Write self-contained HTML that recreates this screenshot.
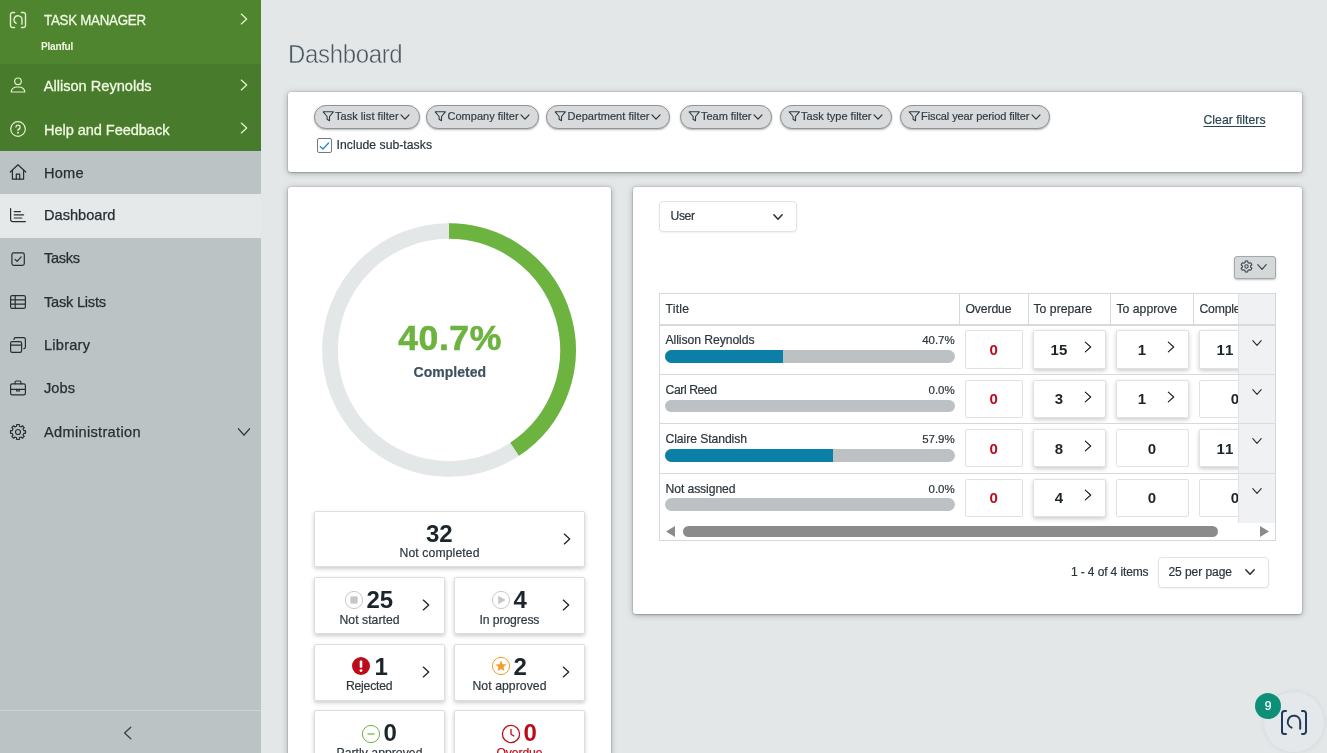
<!DOCTYPE html>
<html lang="en">
<head>
<meta charset="utf-8">
<title>Dashboard - Task Manager</title>
<style>
html,body{margin:0;padding:0;}
h1{margin:0;font-weight:400;}
body{width:1327px;height:753px;overflow:hidden;position:relative;background:#e3e7e8;font-family:"Liberation Sans",sans-serif;}
.t{position:absolute;white-space:nowrap;}
.card{background:#fff;border-radius:3px;box-shadow:0 0 0 1px rgba(0,0,0,.05),0 1px 6px rgba(0,0,0,.28),0 1px 2px rgba(0,0,0,.16);}
.chip{background:#d8dadb;border:1px solid #8d9396;border-radius:12px;box-sizing:border-box;box-shadow:0 1px 2px rgba(0,0,0,.3);}
.tile{background:#fff;border:1px solid #dcdedf;border-radius:2px;box-sizing:border-box;box-shadow:0 2px 4px rgba(0,0,0,.2);}
.dd{background:#fff;border:1px solid #dfe3e5;border-radius:4px;box-sizing:border-box;box-shadow:0 1px 2px rgba(0,0,0,.06);}
.cell{background:#fff;border:1px solid #dfe1e2;border-radius:2px;box-sizing:border-box;}
.cell.sh{box-shadow:0 2px 4px rgba(0,0,0,.2);}
</style>
</head>
<body>
<nav id="sidebar" aria-label="Main navigation">
<div style="position:absolute;left:0px;top:0px;width:261px;height:753px;background:#bcc3c5;"></div><div style="position:absolute;left:0px;top:0px;width:261px;height:64px;background:#4f852f;"></div><div style="position:absolute;left:0px;top:64px;width:261px;height:87px;background:#487b2b;"></div><svg style="position:absolute;left:9px;top:10.8px;" width="18" height="18" viewBox="0 0 18 18" fill="none"><g stroke="#e2f2cc" stroke-width="1.4" stroke-linecap="round" stroke-linejoin="round"><path d="M5.6 1.5H3.6A2.1 2.1 0 0 0 1.5 3.6V14.4A2.1 2.1 0 0 0 3.6 16.5H5.6"/><path d="M12.4 1.5H14.4A2.1 2.1 0 0 1 16.5 3.6V14.4A2.1 2.1 0 0 1 14.400 16.5H12.4"/><path d="M7.1 12.3A4 4 0 1 1 13 9.2V13.2"/></g></svg><span class="t" style="left:44.3px;top:10.00px;font-size:14.8px;line-height:20px;color:#f1f9e4;font-weight:400;letter-spacing:-0.28px;-webkit-text-stroke:.3px #f1f9e4;transform:scaleX(0.9);transform-origin:0 50%;">TASK MANAGER</span><span class="t" style="left:41.2px;top:38.00px;font-size:10.8px;line-height:16px;color:#f1f9e4;font-weight:700;letter-spacing:-0.21px;transform:scaleX(0.93);transform-origin:0 50%;">Planful</span><svg style="position:absolute;left:238px;top:11px;" width="12" height="16" viewBox="0 0 12 16" fill="none"><path d="M3.30 3.10L8.70 8L3.30 12.90" stroke="#e2f2cc" stroke-width="1.3" stroke-linecap="round" stroke-linejoin="round"/></svg><svg style="position:absolute;left:9px;top:76px;" width="18" height="18" viewBox="0 0 18 18" fill="none"><g stroke="#e2f2cc" stroke-width="1.2" stroke-linecap="round" stroke-linejoin="round"><circle cx="9" cy="5.3" r="3.3"/><path d="M2.2 16C2.2 12.6 5 11 9 11S15.8 12.6 15.8 16Z"/></g></svg><span class="t" style="left:43.8px;top:76.00px;font-size:14.6px;line-height:20px;color:#f1f9e4;font-weight:400;letter-spacing:-0.01px;-webkit-text-stroke:.3px #f1f9e4;">Allison Reynolds</span><svg style="position:absolute;left:238px;top:77px;" width="12" height="16" viewBox="0 0 12 16" fill="none"><path d="M3.30 3.10L8.70 8L3.30 12.90" stroke="#e2f2cc" stroke-width="1.3" stroke-linecap="round" stroke-linejoin="round"/></svg><svg style="position:absolute;left:9px;top:120px;" width="18" height="18" viewBox="0 0 18 18" fill="none"><g stroke="#e2f2cc" stroke-width="1.2" stroke-linecap="round" stroke-linejoin="round"><circle cx="9" cy="9" r="7.3"/><path d="M6.9 7.1A2.1 2.1 0 1 1 9 9.4V10.6"/><circle cx="9" cy="12.7" r=".35" fill="#e2f2cc"/></g></svg><span class="t" style="left:44px;top:120.00px;font-size:14.6px;line-height:20px;color:#f1f9e4;font-weight:400;letter-spacing:-0.07px;-webkit-text-stroke:.3px #f1f9e4;">Help and Feedback</span><svg style="position:absolute;left:238px;top:120px;" width="12" height="16" viewBox="0 0 12 16" fill="none"><path d="M3.30 3.10L8.70 8L3.30 12.90" stroke="#e2f2cc" stroke-width="1.3" stroke-linecap="round" stroke-linejoin="round"/></svg><div style="position:absolute;left:0px;top:194px;width:261px;height:44px;background:#e5e9ea;"></div><svg style="position:absolute;left:9px;top:163px;" width="18" height="18" viewBox="0 0 18 18" fill="none"><g stroke="#262f34" stroke-width="1.2" stroke-linecap="round" stroke-linejoin="round"><path d="M1.3 9L9 1.8L16.7 9"/><path d="M3.4 7.4V16.2H14.6V7.4"/><path d="M7.3 16.2V11.2H10.7V16.2"/></g></svg><span class="t" style="left:44px;top:163.00px;font-size:14.6px;line-height:20px;color:#262f34;font-weight:400;letter-spacing:0.19px;-webkit-text-stroke:.25px #262f34;">Home</span><svg style="position:absolute;left:9px;top:206px;" width="18" height="18" viewBox="0 0 18 18" fill="none"><g stroke="#262f34" stroke-width="1.2" stroke-linecap="round" stroke-linejoin="round"><path d="M1.6 2.6V13.6A2 2 0 0 0 3.6 15.6H16.4"/><path d="M5.2 5.6H11.4"/><path d="M5.2 8.800H14.6"/><path d="M5.2 12H12.8"/></g></svg><span class="t" style="left:44px;top:205.00px;font-size:14.6px;line-height:20px;color:#262f34;font-weight:400;letter-spacing:0.01px;-webkit-text-stroke:.25px #262f34;">Dashboard</span><svg style="position:absolute;left:9px;top:249.89999999999998px;" width="18" height="18" viewBox="0 0 18 18" fill="none"><g stroke="#262f34" stroke-width="1.2" stroke-linecap="round" stroke-linejoin="round"><rect x="2.9" y="2.9" width="12.4" height="12.4" rx="1.8"/><path d="M6 9.3L8.1 11.4L12.2 6.9"/></g></svg><span class="t" style="left:44px;top:248.00px;font-size:14.6px;line-height:20px;color:#262f34;font-weight:400;letter-spacing:-0.33px;-webkit-text-stroke:.25px #262f34;">Tasks</span><svg style="position:absolute;left:9px;top:293px;" width="18" height="18" viewBox="0 0 18 18" fill="none"><g stroke="#262f34" stroke-width="1.2" stroke-linecap="round" stroke-linejoin="round"><rect x="1.6" y="2.6" width="14.8" height="12.8" rx="1.6"/><path d="M1.6 6.9H16.4"/><path d="M1.6 11.1H16.4"/><path d="M6.2 2.6V15.4"/></g></svg><span class="t" style="left:44px;top:292.00px;font-size:14.6px;line-height:20px;color:#262f34;font-weight:400;letter-spacing:-0.23px;-webkit-text-stroke:.25px #262f34;">Task Lists</span><svg style="position:absolute;left:9px;top:335.7px;" width="18" height="18" viewBox="0 0 18 18" fill="none"><g stroke="#262f34" stroke-width="1.2" stroke-linecap="round" stroke-linejoin="round"><rect x="1.6" y="5.6" width="11" height="10.8" rx="1.6"/><path d="M1.6 9.2H12.6"/><path d="M5 3.4V3.2A1.6 1.6 0 0 1 6.6 1.6H14.8A1.6 1.6 0 0 1 16.4 3.2V11A1.6 1.6 0 0 1 14.8 12.6"/></g></svg><span class="t" style="left:44px;top:335.00px;font-size:14.6px;line-height:20px;color:#262f34;font-weight:400;letter-spacing:0.23px;-webkit-text-stroke:.25px #262f34;">Library</span><svg style="position:absolute;left:9px;top:379.2px;" width="18" height="18" viewBox="0 0 18 18" fill="none"><g stroke="#262f34" stroke-width="1.2" stroke-linecap="round" stroke-linejoin="round"><rect x="1.6" y="4.8" width="14.8" height="11" rx="1.6"/><path d="M6 4.8V3.4A1.4 1.4 0 0 1 7.4 2H10.6A1.4 1.4 0 0 1 12 3.4V4.800"/><path d="M1.6 10.4H16.4"/><path d="M7.6 10.4V12H10.4V10.4"/></g></svg><span class="t" style="left:44px;top:378.00px;font-size:14.6px;line-height:20px;color:#262f34;font-weight:400;letter-spacing:0.06px;-webkit-text-stroke:.25px #262f34;">Jobs</span><svg style="position:absolute;left:9px;top:423px;" width="18" height="18" viewBox="0 0 18 18" fill="none"><g stroke="#262f34" stroke-width="1.2" stroke-linecap="round" stroke-linejoin="round"><path d="M7.69 1.51L10.31 1.51L10.38 3.26L12.08 3.97L13.37 2.78L15.22 4.63L14.03 5.92L14.74 7.62L16.49 7.69L16.49 10.31L14.74 10.38L14.03 12.08L15.22 13.37L13.37 15.22L12.08 14.03L10.38 14.74L10.31 16.49L7.69 16.49L7.62 14.74L5.92 14.03L4.63 15.22L2.78 13.37L3.97 12.08L3.26 10.38L1.51 10.31L1.51 7.69L3.26 7.62L3.97 5.92L2.78 4.63L4.63 2.78L5.92 3.97L7.62 3.26Z"/><circle cx="9" cy="9" r="2.5"/></g></svg><span class="t" style="left:44px;top:422.00px;font-size:14.6px;line-height:20px;color:#262f34;font-weight:400;letter-spacing:0.31px;-webkit-text-stroke:.25px #262f34;">Administration</span><svg style="position:absolute;left:235.5px;top:426px;" width="16" height="12" viewBox="0 0 16 12" fill="none"><path d="M2.50 2.80L8 9.20L13.50 2.80" stroke="#262f34" stroke-width="1.3" stroke-linecap="round" stroke-linejoin="round"/></svg><div style="position:absolute;left:0px;top:710px;width:261px;height:1px;background:#cdd3d5;"></div><svg style="position:absolute;left:120px;top:724px;" width="16" height="18" viewBox="0 0 16 18" fill="none"><path d="M10.8 3.2L4.6 9L10.8 14.8" stroke="#2f3e46" stroke-width="1.2" stroke-linecap="round" stroke-linejoin="round"/></svg>
</nav>
<main id="main">
<h1 class="t" style="left:287.6px;top:38.00px;font-size:25px;line-height:32px;color:#4a5761;font-weight:400;letter-spacing:-0.35px;-webkit-text-stroke:.45px #e3e7e8;transform:scaleX(0.96);transform-origin:0 50%;">Dashboard</h1>
<section id="filters" aria-label="Filters">
<div class="card" style="position:absolute;left:288px;top:92px;width:1014px;height:80px;"></div><div class="chip" style="position:absolute;left:314px;top:105px;width:106px;height:24px;"></div><svg style="position:absolute;left:321.5px;top:109.6px;" width="13" height="13" viewBox="0 0 13 13" fill="none"><path d="M1.2 1.8H11.4L7.5 6.5V10.8L5.1 9.2V6.500Z" stroke="#2f3e46" stroke-width="1.1" stroke-linejoin="round"/></svg><span class="t" style="left:335.0px;top:108.00px;font-size:11px;line-height:16px;color:#323e45;font-weight:400;letter-spacing:0.04px;-webkit-text-stroke:.2px #323e45;">Task list filter</span><svg style="position:absolute;left:396.8px;top:110.5px;" width="16" height="12" viewBox="0 0 16 12" fill="none"><path d="M4.00 3.90L8 8.10L12.00 3.90" stroke="#2b363c" stroke-width="1.2" stroke-linecap="round" stroke-linejoin="round"/></svg><div class="chip" style="position:absolute;left:426px;top:105px;width:113px;height:24px;"></div><svg style="position:absolute;left:434px;top:109.6px;" width="13" height="13" viewBox="0 0 13 13" fill="none"><path d="M1.2 1.8H11.4L7.5 6.5V10.8L5.1 9.2V6.500Z" stroke="#2f3e46" stroke-width="1.1" stroke-linejoin="round"/></svg><span class="t" style="left:447.5px;top:108.00px;font-size:11px;line-height:16px;color:#323e45;font-weight:400;letter-spacing:0.01px;-webkit-text-stroke:.2px #323e45;">Company filter</span><svg style="position:absolute;left:516.8px;top:110.5px;" width="16" height="12" viewBox="0 0 16 12" fill="none"><path d="M4.00 3.90L8 8.10L12.00 3.90" stroke="#2b363c" stroke-width="1.2" stroke-linecap="round" stroke-linejoin="round"/></svg><div class="chip" style="position:absolute;left:546px;top:105px;width:124px;height:24px;"></div><svg style="position:absolute;left:554px;top:109.6px;" width="13" height="13" viewBox="0 0 13 13" fill="none"><path d="M1.2 1.8H11.4L7.5 6.5V10.8L5.1 9.2V6.500Z" stroke="#2f3e46" stroke-width="1.1" stroke-linejoin="round"/></svg><span class="t" style="left:567.5px;top:108.00px;font-size:11px;line-height:16px;color:#323e45;font-weight:400;letter-spacing:0.04px;-webkit-text-stroke:.2px #323e45;">Department filter</span><svg style="position:absolute;left:647.8px;top:110.5px;" width="16" height="12" viewBox="0 0 16 12" fill="none"><path d="M4.00 3.90L8 8.10L12.00 3.90" stroke="#2b363c" stroke-width="1.2" stroke-linecap="round" stroke-linejoin="round"/></svg><div class="chip" style="position:absolute;left:680px;top:105px;width:92px;height:24px;"></div><svg style="position:absolute;left:687.5px;top:109.6px;" width="13" height="13" viewBox="0 0 13 13" fill="none"><path d="M1.2 1.8H11.4L7.5 6.5V10.8L5.1 9.2V6.500Z" stroke="#2f3e46" stroke-width="1.1" stroke-linejoin="round"/></svg><span class="t" style="left:701.0px;top:108.00px;font-size:11px;line-height:16px;color:#323e45;font-weight:400;letter-spacing:-0.03px;-webkit-text-stroke:.2px #323e45;">Team filter</span><svg style="position:absolute;left:749.8px;top:110.5px;" width="16" height="12" viewBox="0 0 16 12" fill="none"><path d="M4.00 3.90L8 8.10L12.00 3.90" stroke="#2b363c" stroke-width="1.2" stroke-linecap="round" stroke-linejoin="round"/></svg><div class="chip" style="position:absolute;left:780px;top:105px;width:112px;height:24px;"></div><svg style="position:absolute;left:787.5px;top:109.6px;" width="13" height="13" viewBox="0 0 13 13" fill="none"><path d="M1.2 1.8H11.4L7.5 6.5V10.8L5.1 9.2V6.500Z" stroke="#2f3e46" stroke-width="1.1" stroke-linejoin="round"/></svg><span class="t" style="left:801.0px;top:108.00px;font-size:11px;line-height:16px;color:#323e45;font-weight:400;letter-spacing:0.01px;-webkit-text-stroke:.2px #323e45;">Task type filter</span><svg style="position:absolute;left:869.8px;top:110.5px;" width="16" height="12" viewBox="0 0 16 12" fill="none"><path d="M4.00 3.90L8 8.10L12.00 3.90" stroke="#2b363c" stroke-width="1.2" stroke-linecap="round" stroke-linejoin="round"/></svg><div class="chip" style="position:absolute;left:900px;top:105px;width:150px;height:24px;"></div><svg style="position:absolute;left:907.5px;top:109.6px;" width="13" height="13" viewBox="0 0 13 13" fill="none"><path d="M1.2 1.8H11.4L7.5 6.5V10.8L5.1 9.2V6.500Z" stroke="#2f3e46" stroke-width="1.1" stroke-linejoin="round"/></svg><span class="t" style="left:921.0px;top:108.00px;font-size:11px;line-height:16px;color:#323e45;font-weight:400;letter-spacing:-0.09px;-webkit-text-stroke:.2px #323e45;">Fiscal year period filter</span><svg style="position:absolute;left:1027.8px;top:110.5px;" width="16" height="12" viewBox="0 0 16 12" fill="none"><path d="M4.00 3.90L8 8.10L12.00 3.90" stroke="#2b363c" stroke-width="1.2" stroke-linecap="round" stroke-linejoin="round"/></svg><div style="position:absolute;left:317px;top:138px;width:15px;height:15px;background:#fff;border:1px solid #6f7b83;border-radius:2px;box-sizing:border-box;"></div><svg style="position:absolute;left:317px;top:138px;" width="15" height="15" viewBox="0 0 15 15" fill="none"><path d="M3.2 8.6L6 11L11.6 5" stroke="#1d8dbe" stroke-width="1.3" stroke-linecap="round" stroke-linejoin="round"/></svg><span class="t" style="left:336.5px;top:136.00px;font-size:12.2px;line-height:18px;color:#2b363c;font-weight:400;letter-spacing:0.04px;-webkit-text-stroke:.2px #2b363c;">Include sub-tasks</span><span class="t" style="left:1203.5px;top:111.00px;font-size:12.2px;line-height:18px;color:#2b4650;font-weight:400;letter-spacing:0.03px;text-decoration:underline;text-underline-offset:2px;-webkit-text-stroke:.2px #2b4650;">Clear filters</span>
</section>
<section id="summary" aria-label="Completion summary">
<div class="card" style="position:absolute;left:288px;top:187px;width:323px;height:600px;"></div><svg style="position:absolute;left:319.4px;top:219.60000000000002px;" width="260" height="260" viewBox="0 0 260 260" fill="none"><circle cx="130" cy="130" r="119.0" stroke="#e4e7e7" stroke-width="15.7"/><path d="M130 11.0A119.0 119.0 0 0 1 195.65 229.26" stroke="#6cb33f" stroke-width="15.7"/></svg><span class="t" style="left:398.3px;top:316.00px;font-size:35.5px;line-height:44px;color:#6cb33f;font-weight:700;letter-spacing:0.56px;-webkit-text-stroke:.6px #6cb33f;">40.7%</span><span class="t" style="left:413.5px;top:362.00px;font-size:14px;line-height:20px;color:#3f5260;font-weight:700;letter-spacing:0.02px;-webkit-text-stroke:.2px #3f5260;">Completed</span><div class="tile" style="position:absolute;left:314px;top:511px;width:271px;height:56px;"></div><span class="t" style="left:426px;top:518.00px;font-size:24px;line-height:31px;color:#1c252a;font-weight:700;letter-spacing:-0.20px;">32</span><span class="t" style="left:399.5px;top:544.00px;font-size:12.2px;line-height:18px;color:#2d383e;font-weight:400;letter-spacing:0.12px;-webkit-text-stroke:.2px #2d383e;">Not completed</span><svg style="position:absolute;left:561px;top:531.3px;" width="12" height="16" viewBox="0 0 12 16" fill="none"><path d="M3.30 3.10L8.70 8L3.30 12.90" stroke="#1c252a" stroke-width="1.3" stroke-linecap="round" stroke-linejoin="round"/></svg><div class="tile" style="position:absolute;left:314px;top:577px;width:131px;height:57px;"></div><svg style="position:absolute;left:344.3px;top:590.2px;" width="20" height="20" viewBox="0 0 20 20" fill="none"><circle cx="10" cy="10" r="8.6" fill="#fff" stroke="#c9c9c9" stroke-width="1"/><rect x="6.4" y="6.4" width="7.2" height="7.2" fill="#c6c6c6"/></svg><span class="t" style="left:366.5px;top:584.00px;font-size:24px;line-height:31px;color:#1c252a;font-weight:700;letter-spacing:-0.20px;">25</span><span class="t" style="left:339.5px;top:611.00px;font-size:12.2px;line-height:18px;color:#2d383e;font-weight:400;letter-spacing:0.04px;-webkit-text-stroke:.2px #2d383e;">Not started</span><svg style="position:absolute;left:419.8px;top:597.2px;" width="12" height="16" viewBox="0 0 12 16" fill="none"><path d="M3.30 3.10L8.70 8L3.30 12.90" stroke="#1c252a" stroke-width="1.3" stroke-linecap="round" stroke-linejoin="round"/></svg><div class="tile" style="position:absolute;left:454px;top:577px;width:131px;height:57px;"></div><svg style="position:absolute;left:491.3px;top:590.2px;" width="20" height="20" viewBox="0 0 20 20" fill="none"><circle cx="10" cy="10" r="8.6" fill="#fff" stroke="#c9c9c9" stroke-width="1"/><path d="M7.2 5.8L14.6 10L7.2 14.2Z" fill="#c6c6c6"/></svg><span class="t" style="left:513.5px;top:584.00px;font-size:24px;line-height:31px;color:#1c252a;font-weight:700;letter-spacing:0.00px;width:12.5px;text-align:center;">4</span><span class="t" style="left:479.5px;top:611.00px;font-size:12.2px;line-height:18px;color:#2d383e;font-weight:400;letter-spacing:-0.10px;-webkit-text-stroke:.2px #2d383e;">In progress</span><svg style="position:absolute;left:559.8px;top:597.2px;" width="12" height="16" viewBox="0 0 12 16" fill="none"><path d="M3.30 3.10L8.70 8L3.30 12.90" stroke="#1c252a" stroke-width="1.3" stroke-linecap="round" stroke-linejoin="round"/></svg><div class="tile" style="position:absolute;left:314px;top:644px;width:131px;height:57px;"></div><svg style="position:absolute;left:351.3px;top:656.1px;" width="20" height="20" viewBox="0 0 20 20" fill="none"><circle cx="10" cy="10" r="9" fill="#bc0b19"/><rect x="8.7" y="4.6" width="2.6" height="7.2" rx="1" fill="#fff"/><circle cx="10" cy="14.6" r="1.45" fill="#fff"/></svg><span class="t" style="left:374.5px;top:651.00px;font-size:24px;line-height:31px;color:#1c252a;font-weight:700;letter-spacing:0.00px;width:11.0px;text-align:center;">1</span><span class="t" style="left:346px;top:677.00px;font-size:12.2px;line-height:18px;color:#2d383e;font-weight:400;letter-spacing:-0.23px;-webkit-text-stroke:.2px #2d383e;">Rejected</span><svg style="position:absolute;left:419.8px;top:664.2px;" width="12" height="16" viewBox="0 0 12 16" fill="none"><path d="M3.30 3.10L8.70 8L3.30 12.90" stroke="#1c252a" stroke-width="1.3" stroke-linecap="round" stroke-linejoin="round"/></svg><div class="tile" style="position:absolute;left:454px;top:644px;width:131px;height:57px;"></div><svg style="position:absolute;left:491.3px;top:656.1px;" width="20" height="20" viewBox="0 0 20 20" fill="none"><circle cx="10" cy="10" r="8.6" fill="#fff" stroke="#f39c2c" stroke-width="1"/><polygon points="10.00,4.40 11.53,8.20 15.61,8.48 12.47,11.10 13.47,15.07 10.00,12.90 6.53,15.07 7.53,11.10 4.39,8.48 8.47,8.20" fill="#f39c2c"/></svg><span class="t" style="left:513.5px;top:651.00px;font-size:24px;line-height:31px;color:#1c252a;font-weight:700;letter-spacing:0.00px;width:12.5px;text-align:center;">2</span><span class="t" style="left:472.5px;top:677.00px;font-size:12.2px;line-height:18px;color:#2d383e;font-weight:400;letter-spacing:0.07px;-webkit-text-stroke:.2px #2d383e;">Not approved</span><svg style="position:absolute;left:559.8px;top:664.2px;" width="12" height="16" viewBox="0 0 12 16" fill="none"><path d="M3.30 3.10L8.70 8L3.30 12.90" stroke="#1c252a" stroke-width="1.3" stroke-linecap="round" stroke-linejoin="round"/></svg><div class="tile" style="position:absolute;left:314px;top:710px;width:131px;height:57px;"></div><svg style="position:absolute;left:361.3px;top:723.7px;" width="20" height="20" viewBox="0 0 20 20" fill="none"><circle cx="10" cy="10" r="8.6" fill="#fff" stroke="#6cb33f" stroke-width="1"/><path d="M6.4 10H13.6" stroke="#6cb33f" stroke-width="1.2"/></svg><span class="t" style="left:383.5px;top:717.00px;font-size:24px;line-height:31px;color:#1c252a;font-weight:700;letter-spacing:0.00px;width:12.0px;text-align:center;">0</span><span class="t" style="left:336.5px;top:744.00px;font-size:12.2px;line-height:18px;color:#2d383e;font-weight:400;letter-spacing:0.04px;-webkit-text-stroke:.2px #2d383e;">Partly approved</span><div class="tile" style="position:absolute;left:454px;top:710px;width:131px;height:57px;"></div><svg style="position:absolute;left:501.3px;top:723.7px;" width="20" height="20" viewBox="0 0 20 20" fill="none"><circle cx="10" cy="10" r="8.6" fill="#fff" stroke="#bc0b19" stroke-width="1.3"/><path d="M10 5.4V10.200L12.8 12" stroke="#bc0b19" stroke-width="1.3" stroke-linecap="round" stroke-linejoin="round"/></svg><span class="t" style="left:523.5px;top:717.00px;font-size:24px;line-height:31px;color:#bc0b19;font-weight:700;letter-spacing:0.00px;width:13.0px;text-align:center;">0</span><span class="t" style="left:496.5px;top:744.00px;font-size:12.2px;line-height:18px;color:#bc0b19;font-weight:400;letter-spacing:-0.12px;-webkit-text-stroke:.2px #bc0b19;">Overdue</span>
</section>
<section id="progress" aria-label="Progress by user">
<div class="card" style="position:absolute;left:633px;top:187px;width:669px;height:427px;"></div><div class="dd" style="position:absolute;left:659px;top:201px;width:138px;height:31px;"></div><span class="t" style="left:670.5px;top:207.00px;font-size:12.2px;line-height:18px;color:#2b363c;font-weight:400;letter-spacing:-0.41px;-webkit-text-stroke:.2px #2b363c;">User</span><svg style="position:absolute;left:770px;top:210.5px;" width="16" height="12" viewBox="0 0 16 12" fill="none"><path d="M3.90 3.80L8 8.20L12.10 3.80" stroke="#2b363c" stroke-width="1.6" stroke-linecap="round" stroke-linejoin="round"/></svg><div style="position:absolute;left:1234px;top:256px;width:41.5px;height:23px;background:#d5d8d9;border:1px solid #a3a8ab;border-radius:3px;box-sizing:border-box;box-shadow:0 1px 2px rgba(0,0,0,.25);"></div><svg style="position:absolute;left:1240.2px;top:260.3px;" width="13" height="13" viewBox="0 0 18 18" fill="none"><g stroke="#39444b" stroke-width="1.4" stroke-linejoin="round"><path d="M7.36 1.27L10.64 1.27L10.96 3.54L12.74 4.57L14.87 3.71L16.51 6.56L14.71 7.97L14.71 10.03L16.51 11.44L14.87 14.29L12.74 13.43L10.96 14.46L10.64 16.73L7.36 16.73L7.04 14.46L5.26 13.43L3.13 14.29L1.49 11.44L3.29 10.03L3.29 7.97L1.49 6.56L3.13 3.71L5.26 4.57L7.04 3.54Z"/><circle cx="9" cy="9" r="2.3"/></g></svg><svg style="position:absolute;left:1254px;top:261.2px;" width="16" height="12" viewBox="0 0 16 12" fill="none"><path d="M3.80 3.70L8 8.30L12.20 3.70" stroke="#39444b" stroke-width="1.2" stroke-linecap="round" stroke-linejoin="round"/></svg><div style="position:absolute;left:659px;top:293px;width:617px;height:248px;background:#fff;border:1px solid #d5d9db;box-sizing:border-box;"></div><div style="position:absolute;left:959.0px;top:293px;width:1px;height:31px;background:#d5d9db;"></div><div style="position:absolute;left:1028.0px;top:293px;width:1px;height:31px;background:#d5d9db;"></div><div style="position:absolute;left:1110.0px;top:293px;width:1px;height:31px;background:#d5d9db;"></div><div style="position:absolute;left:1193.0px;top:293px;width:1px;height:31px;background:#d5d9db;"></div><span class="t" style="left:665.5px;top:300.00px;font-size:12.2px;line-height:18px;color:#2b363c;font-weight:400;letter-spacing:0.23px;-webkit-text-stroke:.2px #2b363c;">Title</span><span class="t" style="left:965.5px;top:300.00px;font-size:12.2px;line-height:18px;color:#2b363c;font-weight:400;letter-spacing:-0.12px;-webkit-text-stroke:.2px #2b363c;">Overdue</span><span class="t" style="left:1033.5px;top:300.00px;font-size:12.2px;line-height:18px;color:#2b363c;font-weight:400;letter-spacing:0.03px;-webkit-text-stroke:.2px #2b363c;">To prepare</span><span class="t" style="left:1116.5px;top:300.00px;font-size:12.2px;line-height:18px;color:#2b363c;font-weight:400;letter-spacing:0.02px;-webkit-text-stroke:.2px #2b363c;">To approve</span><span class="t" style="left:1199.5px;top:300.00px;font-size:12.2px;line-height:18px;color:#2b363c;font-weight:400;letter-spacing:-0.18px;-webkit-text-stroke:.2px #2b363c;">Completed</span><span class="t" style="left:665.5px;top:331.00px;font-size:12.2px;line-height:18px;color:#2b363c;font-weight:400;letter-spacing:-0.07px;-webkit-text-stroke:.2px #2b363c;">Allison Reynolds</span><span class="t" style="left:922.2px;top:332.00px;font-size:11.5px;line-height:16px;color:#2b363c;font-weight:400;letter-spacing:-0.03px;-webkit-text-stroke:.2px #2b363c;">40.7%</span><div style="position:absolute;left:665px;top:350.3px;width:290px;height:12.7px;background:#bcc1c3;border-radius:6.5px;overflow:hidden;"><div style="width:40.7%;height:100%;background:#0b7fa5"></div></div><div class="cell" style="position:absolute;left:965px;top:330px;width:57.5px;height:39px;"></div><span class="t" style="left:989.5px;top:339.00px;font-size:15px;line-height:21px;color:#bc0b19;font-weight:700;letter-spacing:0.00px;width:8.5px;text-align:center;">0</span><div class="cell sh" style="position:absolute;left:1033px;top:330px;width:72.5px;height:39px;"></div><span class="t" style="left:1050.6px;top:339.00px;font-size:15px;line-height:21px;color:#1c252a;font-weight:700;letter-spacing:0.11px;">15</span><svg style="position:absolute;left:1082.3px;top:339.3px;" width="12" height="16" viewBox="0 0 12 16" fill="none"><path d="M3.30 3.10L8.70 8L3.30 12.90" stroke="#1c252a" stroke-width="1.2" stroke-linecap="round" stroke-linejoin="round"/></svg><div class="cell sh" style="position:absolute;left:1116px;top:330px;width:72.5px;height:39px;"></div><span class="t" style="left:1137.8px;top:339.00px;font-size:15px;line-height:21px;color:#1c252a;font-weight:700;letter-spacing:0.00px;width:8.4px;text-align:center;">1</span><svg style="position:absolute;left:1164.8px;top:339.3px;" width="12" height="16" viewBox="0 0 12 16" fill="none"><path d="M3.30 3.10L8.70 8L3.30 12.90" stroke="#1c252a" stroke-width="1.2" stroke-linecap="round" stroke-linejoin="round"/></svg><div class="cell sh" style="position:absolute;left:1199px;top:330px;width:72.5px;height:39px;"></div><span class="t" style="left:1216.6px;top:339.00px;font-size:15px;line-height:21px;color:#1c252a;font-weight:700;letter-spacing:0.94px;">11</span><div style="position:absolute;left:659px;top:374.0px;width:617px;height:1px;background:#d5d9db;"></div><span class="t" style="left:665.5px;top:381.00px;font-size:12.2px;line-height:18px;color:#2b363c;font-weight:400;letter-spacing:-0.42px;-webkit-text-stroke:.2px #2b363c;">Carl Reed</span><span class="t" style="left:928.5px;top:382.00px;font-size:11.5px;line-height:16px;color:#2b363c;font-weight:400;letter-spacing:-0.01px;-webkit-text-stroke:.2px #2b363c;">0.0%</span><div style="position:absolute;left:665px;top:399.67px;width:290px;height:12.7px;background:#bcc1c3;border-radius:6.5px;overflow:hidden;"></div><div class="cell" style="position:absolute;left:965px;top:380px;width:57.5px;height:38px;"></div><span class="t" style="left:989.5px;top:388.00px;font-size:15px;line-height:21px;color:#bc0b19;font-weight:700;letter-spacing:0.00px;width:8.5px;text-align:center;">0</span><div class="cell sh" style="position:absolute;left:1033px;top:380px;width:72.5px;height:38px;"></div><span class="t" style="left:1054.8px;top:388.00px;font-size:15px;line-height:21px;color:#1c252a;font-weight:700;letter-spacing:0.00px;width:8.4px;text-align:center;">3</span><svg style="position:absolute;left:1082.3px;top:388.67px;" width="12" height="16" viewBox="0 0 12 16" fill="none"><path d="M3.30 3.10L8.70 8L3.30 12.90" stroke="#1c252a" stroke-width="1.2" stroke-linecap="round" stroke-linejoin="round"/></svg><div class="cell sh" style="position:absolute;left:1116px;top:380px;width:72.5px;height:38px;"></div><span class="t" style="left:1137.8px;top:388.00px;font-size:15px;line-height:21px;color:#1c252a;font-weight:700;letter-spacing:0.00px;width:8.4px;text-align:center;">1</span><svg style="position:absolute;left:1164.8px;top:388.67px;" width="12" height="16" viewBox="0 0 12 16" fill="none"><path d="M3.30 3.10L8.70 8L3.30 12.90" stroke="#1c252a" stroke-width="1.2" stroke-linecap="round" stroke-linejoin="round"/></svg><div class="cell" style="position:absolute;left:1199px;top:380px;width:72.5px;height:38px;"></div><span class="t" style="left:1230.8px;top:388.00px;font-size:15px;line-height:21px;color:#1c252a;font-weight:700;letter-spacing:0.00px;width:8.4px;text-align:center;">0</span><div style="position:absolute;left:659px;top:423.0px;width:617px;height:1px;background:#d5d9db;"></div><span class="t" style="left:665.5px;top:430.00px;font-size:12.2px;line-height:18px;color:#2b363c;font-weight:400;letter-spacing:-0.08px;-webkit-text-stroke:.2px #2b363c;">Claire Standish</span><span class="t" style="left:922.2px;top:431.00px;font-size:11.5px;line-height:16px;color:#2b363c;font-weight:400;letter-spacing:-0.03px;-webkit-text-stroke:.2px #2b363c;">57.9%</span><div style="position:absolute;left:665px;top:449.04px;width:290px;height:12.7px;background:#bcc1c3;border-radius:6.5px;overflow:hidden;"><div style="width:57.9%;height:100%;background:#0b7fa5"></div></div><div class="cell" style="position:absolute;left:965px;top:429px;width:57.5px;height:38px;"></div><span class="t" style="left:989.5px;top:438.00px;font-size:15px;line-height:21px;color:#bc0b19;font-weight:700;letter-spacing:0.00px;width:8.5px;text-align:center;">0</span><div class="cell sh" style="position:absolute;left:1033px;top:429px;width:72.5px;height:38px;"></div><span class="t" style="left:1054.8px;top:438.00px;font-size:15px;line-height:21px;color:#1c252a;font-weight:700;letter-spacing:0.00px;width:8.4px;text-align:center;">8</span><svg style="position:absolute;left:1082.3px;top:438.04px;" width="12" height="16" viewBox="0 0 12 16" fill="none"><path d="M3.30 3.10L8.70 8L3.30 12.90" stroke="#1c252a" stroke-width="1.2" stroke-linecap="round" stroke-linejoin="round"/></svg><div class="cell" style="position:absolute;left:1116px;top:429px;width:72.5px;height:38px;"></div><span class="t" style="left:1147.8px;top:438.00px;font-size:15px;line-height:21px;color:#1c252a;font-weight:700;letter-spacing:0.00px;width:8.4px;text-align:center;">0</span><div class="cell sh" style="position:absolute;left:1199px;top:429px;width:72.5px;height:38px;"></div><span class="t" style="left:1216.6px;top:438.00px;font-size:15px;line-height:21px;color:#1c252a;font-weight:700;letter-spacing:0.94px;">11</span><div style="position:absolute;left:659px;top:472.5px;width:617px;height:1px;background:#d5d9db;"></div><span class="t" style="left:665.5px;top:480.00px;font-size:12.2px;line-height:18px;color:#2b363c;font-weight:400;letter-spacing:-0.10px;-webkit-text-stroke:.2px #2b363c;">Not assigned</span><span class="t" style="left:928.5px;top:481.00px;font-size:11.5px;line-height:16px;color:#2b363c;font-weight:400;letter-spacing:-0.01px;-webkit-text-stroke:.2px #2b363c;">0.0%</span><div style="position:absolute;left:665px;top:498.41px;width:290px;height:12.7px;background:#bcc1c3;border-radius:6.5px;overflow:hidden;"></div><div class="cell" style="position:absolute;left:965px;top:479px;width:57.5px;height:38px;"></div><span class="t" style="left:989.5px;top:487.00px;font-size:15px;line-height:21px;color:#bc0b19;font-weight:700;letter-spacing:0.00px;width:8.5px;text-align:center;">0</span><div class="cell sh" style="position:absolute;left:1033px;top:479px;width:72.5px;height:38px;"></div><span class="t" style="left:1054.8px;top:487.00px;font-size:15px;line-height:21px;color:#1c252a;font-weight:700;letter-spacing:0.00px;width:8.4px;text-align:center;">4</span><svg style="position:absolute;left:1082.3px;top:487.41px;" width="12" height="16" viewBox="0 0 12 16" fill="none"><path d="M3.30 3.10L8.70 8L3.30 12.90" stroke="#1c252a" stroke-width="1.2" stroke-linecap="round" stroke-linejoin="round"/></svg><div class="cell" style="position:absolute;left:1116px;top:479px;width:72.5px;height:38px;"></div><span class="t" style="left:1147.8px;top:487.00px;font-size:15px;line-height:21px;color:#1c252a;font-weight:700;letter-spacing:0.00px;width:8.4px;text-align:center;">0</span><div class="cell" style="position:absolute;left:1199px;top:479px;width:72.5px;height:38px;"></div><span class="t" style="left:1230.8px;top:487.00px;font-size:15px;line-height:21px;color:#1c252a;font-weight:700;letter-spacing:0.00px;width:8.4px;text-align:center;">0</span><div style="position:absolute;left:1238px;top:294px;width:37px;height:229px;background:#eff1f2;border-left:1px solid #dfe2e4;box-sizing:border-box;"></div><div style="position:absolute;left:1238px;top:324.5px;width:37px;height:1px;background:#d9dddf;"></div><svg style="position:absolute;left:1249px;top:336.5px;" width="16" height="12" viewBox="0 0 16 12" fill="none"><path d="M3.80 3.70L8 8.30L12.20 3.70" stroke="#2b363c" stroke-width="1.2" stroke-linecap="round" stroke-linejoin="round"/></svg><div style="position:absolute;left:1238px;top:374.0px;width:37px;height:1px;background:#d9dddf;"></div><svg style="position:absolute;left:1249px;top:385.87px;" width="16" height="12" viewBox="0 0 16 12" fill="none"><path d="M3.80 3.70L8 8.30L12.20 3.70" stroke="#2b363c" stroke-width="1.2" stroke-linecap="round" stroke-linejoin="round"/></svg><div style="position:absolute;left:1238px;top:423.0px;width:37px;height:1px;background:#d9dddf;"></div><svg style="position:absolute;left:1249px;top:435.24px;" width="16" height="12" viewBox="0 0 16 12" fill="none"><path d="M3.80 3.70L8 8.30L12.20 3.70" stroke="#2b363c" stroke-width="1.2" stroke-linecap="round" stroke-linejoin="round"/></svg><div style="position:absolute;left:1238px;top:472.5px;width:37px;height:1px;background:#d9dddf;"></div><svg style="position:absolute;left:1249px;top:484.61px;" width="16" height="12" viewBox="0 0 16 12" fill="none"><path d="M3.80 3.70L8 8.30L12.20 3.70" stroke="#2b363c" stroke-width="1.2" stroke-linecap="round" stroke-linejoin="round"/></svg><div style="position:absolute;left:659px;top:324px;width:617px;height:2px;background:#d6dadc;"></div><div style="position:absolute;left:661px;top:522.5px;width:613.5px;height:17.5px;background:#fff;"></div><div style="position:absolute;left:683px;top:526px;width:535px;height:11px;background:#8b8b8b;border-radius:5.5px;"></div><svg style="position:absolute;left:665px;top:525px;" width="11" height="13" viewBox="0 0 11 13" fill="none"><path d="M10 1V12L1 6.500Z" fill="#8b8b8b"/></svg><svg style="position:absolute;left:1259px;top:525px;" width="11" height="13" viewBox="0 0 11 13" fill="none"><path d="M1 1V12L10 6.500Z" fill="#8b8b8b"/></svg><span class="t" style="left:1071px;top:563.00px;font-size:12px;line-height:18px;color:#2b363c;font-weight:400;letter-spacing:-0.12px;-webkit-text-stroke:.2px #2b363c;">1 - 4 of 4 items</span><div class="dd" style="position:absolute;left:1158px;top:556.5px;width:110.5px;height:31px;"></div><span class="t" style="left:1168.5px;top:563.00px;font-size:12px;line-height:18px;color:#2b363c;font-weight:400;letter-spacing:-0.06px;-webkit-text-stroke:.2px #2b363c;">25 per page</span><svg style="position:absolute;left:1242.3px;top:566px;" width="16" height="12" viewBox="0 0 16 12" fill="none"><path d="M3.80 3.80L8 8.20L12.20 3.80" stroke="#2b363c" stroke-width="1.6" stroke-linecap="round" stroke-linejoin="round"/></svg>
</section>
<aside id="assistant" aria-label="Assistant">
<div style="position:absolute;left:1264px;top:692px;width:60px;height:60px;border-radius:50%;background:#e5e8eb;box-shadow:0 0 5px rgba(120,130,140,.16);"></div><svg style="position:absolute;left:1280px;top:708.5px;" width="28" height="27" viewBox="0 0 28 27" fill="none"><g stroke="#1f3a5c" stroke-width="2" stroke-linecap="round" stroke-linejoin="round"><path d="M6 2H4.500A2.5 2.5 0 0 0 2 4.500V22.5A2.5 2.5 0 0 0 4.500 25H6"/><path d="M22 2H23.5A2.5 2.5 0 0 1 26 4.500V22.5A2.5 2.5 0 0 1 23.500 25H22"/><path d="M11.6 18.6A6.2 6.2 0 1 1 20.2 13V19.8"/></g></svg><div style="position:absolute;left:1255px;top:693px;width:26px;height:26px;border-radius:50%;background:#0d8f78;"></div><span class="t" style="left:1264px;top:697.00px;font-size:12px;line-height:18px;color:#fff;font-weight:400;letter-spacing:0.00px;-webkit-text-stroke:.2px #fff;width:8.0px;text-align:center;">9</span>
</aside>
</main>
</body>
</html>
